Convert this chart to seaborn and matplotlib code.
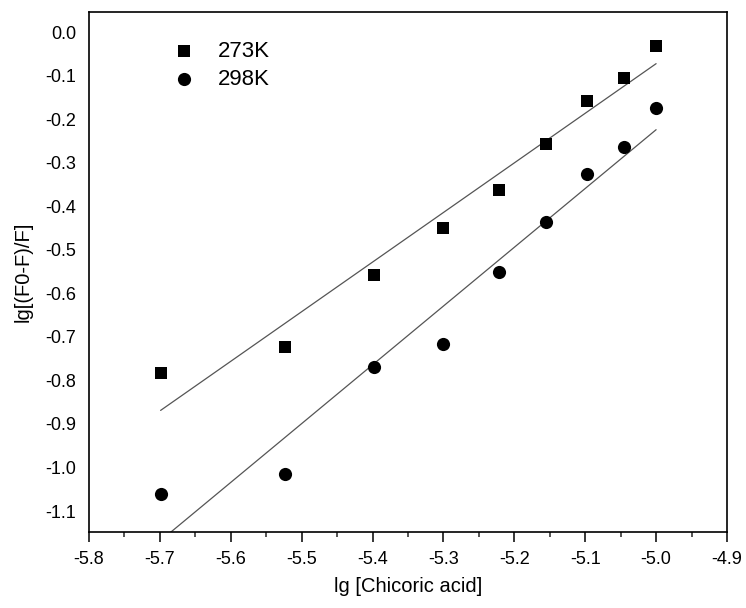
import numpy as np
import pandas as pd
import matplotlib
matplotlib.use("Agg")
import matplotlib.pyplot as plt
from matplotlib.ticker import MultipleLocator, FormatStrFormatter
import seaborn as sns

# Data
lg_conc = [-5.699, -5.523, -5.398, -5.301, -5.222, -5.155, -5.097, -5.046, -5.000]
y_273K = [-0.784, -0.724, -0.559, -0.451, -0.363, -0.257, -0.159, -0.106, -0.031]
y_298K = [-1.060, -1.014, -0.768, -0.717, -0.552, -0.436, -0.326, -0.265, -0.175]
series_labels = ["273K", "298K"]
x_ticks = [-5.8, -5.7, -5.6, -5.5, -5.4, -5.3, -5.2, -5.1, -5.0, -4.9]
y_ticks = [0.0, -0.1, -0.2, -0.3, -0.4, -0.5, -0.6, -0.7, -0.8, -0.9, -1.0, -1.1]

sns.set_style("ticks")
plt.rcParams['font.family'] = ['Liberation Sans', 'DejaVu Sans']
plt.rcParams['text.color'] = 'black'
plt.rcParams['axes.labelcolor'] = 'black'

df273 = pd.DataFrame({"x": lg_conc, "y": y_273K})
df298 = pd.DataFrame({"x": lg_conc, "y": y_298K})

fig = plt.figure(figsize=(7.46, 6.08), dpi=100)
ax = fig.add_axes([89/746, 1 - 532/608, (727-89)/746, (532-12)/608])

line_kw = dict(color="#555555", linewidth=0.9)
sns.regplot(data=df273, x="x", y="y", scatter=False, ci=None, line_kws=line_kw, ax=ax, truncate=True)
sns.regplot(data=df298, x="x", y="y", scatter=False, ci=None, line_kws=line_kw, ax=ax, truncate=True)

sns.scatterplot(data=df273, x="x", y="y", marker="s", s=70, color="black",
                edgecolor="black", linewidth=0, label=series_labels[0], ax=ax, zorder=3)
sns.scatterplot(data=df298, x="x", y="y", marker="o", s=90, color="black",
                edgecolor="black", linewidth=0, label=series_labels[1], ax=ax, zorder=3)

ax.set_xlim(-5.8, -4.9)
ax.set_ylim(-1.148, 0.046)
ax.set_xticks(x_ticks)
ax.set_yticks(y_ticks)
ax.xaxis.set_major_formatter(FormatStrFormatter("%.1f"))
ax.yaxis.set_major_formatter(FormatStrFormatter("%.1f"))
ax.xaxis.set_minor_locator(MultipleLocator(0.05))
ax.tick_params(axis="x", which="major", direction="out", length=7.5, width=1.1,
               labelsize=13, pad=6, colors="black")
ax.tick_params(axis="x", which="minor", direction="out", length=3.8, width=1.1)
ax.tick_params(axis="y", which="both", length=0, labelsize=13, pad=9, colors="black")
for sp in ax.spines.values():
    sp.set_visible(True)
    sp.set_linewidth(1.2)
    sp.set_color("black")

ax.set_xlabel("lg [Chicoric acid]", fontsize=14.5, labelpad=7, color="black")
ax.set_ylabel("lg[(F0-F)/F]", fontsize=14.5, labelpad=9, color="black")

leg = ax.legend(loc="upper left", bbox_to_anchor=(0.1, 0.962), frameon=False,
                fontsize=16, handletextpad=0.55, labelspacing=0.32,
                borderaxespad=0)
for t in leg.get_texts():
    t.set_color("black")

fig.savefig("out.png", dpi=100)
